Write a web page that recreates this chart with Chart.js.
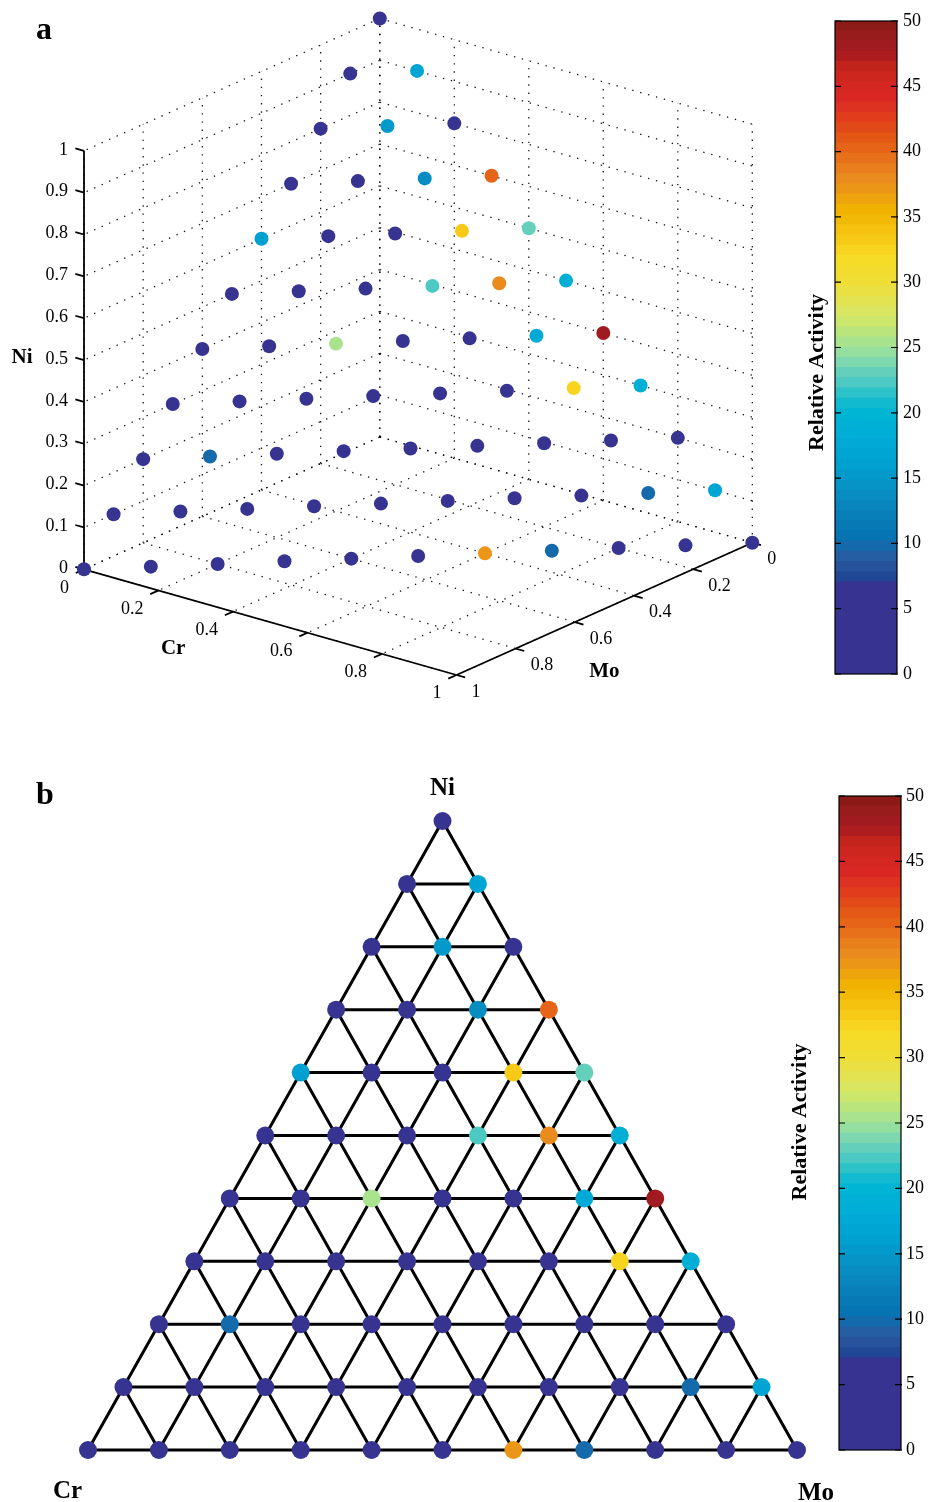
<!DOCTYPE html>
<html>
<head>
<meta charset="utf-8">
<script src="https://cdn.jsdelivr.net/npm/chart.js@4.4.1/dist/chart.umd.min.js"></script>
<style>
html,body{margin:0;padding:0;background:#fff;}
body{width:928px;height:1502px;position:relative;overflow:hidden;}
canvas{position:absolute;}
</style>
</head>
<body>
<canvas id="c3d" style="left:0;top:0;width:800px;height:720px" width="800" height="720"></canvas>
<canvas id="cbA" style="left:780px;top:0;width:148px;height:700px" width="148" height="700"></canvas>
<canvas id="tern" style="left:0;top:760px;width:928px;height:742px" width="928" height="742"></canvas>
<canvas id="cbB" style="left:780px;top:760px;width:148px;height:742px" width="148" height="742"></canvas>
<script>
// ---------------- DATA ----------------
// composition grid fractions (Ni rows, Cr steps)
const compositionSteps = [0, 0.1, 0.2, 0.3, 0.4, 0.5, 0.6, 0.7, 0.8, 0.9, 1];
// relative activity per Ni row, ordered by increasing Cr (Cr = 0, 0.1, ...), Mo = 1 - Ni - Cr
const actNi00 = [3, 3, 3, 3, 3, 3, 37, 10, 3, 3, 3];
const actNi01 = [3, 3, 3, 3, 3, 3, 3, 3, 9.5, 17];
const actNi02 = [3, 9.5, 3, 3, 3, 3, 3, 3, 3];
const actNi03 = [3, 3, 3, 3, 3, 3, 32.5, 18.5];
const actNi04 = [3, 3, 25, 3, 3, 17.5, 48];
const actNi05 = [3, 3, 3, 22.5, 38, 18];
const actNi06 = [16, 3, 3, 33, 22.7];
const actNi07 = [3, 3, 13.5, 40.5];
const actNi08 = [3, 15, 3];
const actNi09 = [3, 17];
const actNi10 = [3];
const activityRows = [actNi00, actNi01, actNi02, actNi03, actNi04, actNi05, actNi06, actNi07, actNi08, actNi09, actNi10];

// tick labels
const niTickValues = [0, 0.1, 0.2, 0.3, 0.4, 0.5, 0.6, 0.7, 0.8, 0.9, 1];
const niTickLabels = ['0', '0.1', '0.2', '0.3', '0.4', '0.5', '0.6', '0.7', '0.8', '0.9', '1'];
const crTickValues = [0, 0.2, 0.4, 0.6, 0.8, 1];
const crTickLabels = ['0', '0.2', '0.4', '0.6', '0.8', '1'];
const moTickValues = [0, 0.2, 0.4, 0.6, 0.8, 1];
const moTickLabels = ['0', '0.2', '0.4', '0.6', '0.8', '1'];
const colorbarMin = 0, colorbarMax = 50, colorbarStep = 5, colorbarLevels = 64;

// ---------------- COLORMAP (style) ----------------
const cmapStops = [0, 7.0, 7.1, 8.6, 9.4, 10.2, 12, 14, 16, 18, 20, 21, 22, 23, 24, 25, 26, 27, 28, 29, 30, 32, 33, 34.5, 35.5, 37, 38, 39.5, 41, 42.5, 44, 45.5, 46.5, 47.5, 49, 50];
const cmapColors = [
  [54,52,144],[54,52,144],[30,68,146],[42,88,160],[32,100,166],[5,114,176],[8,126,184],[8,144,196],
  [0,160,208],[0,172,215],[0,181,212],[24,188,204],[68,198,196],[98,208,188],[130,218,172],[160,226,150],
  [182,229,128],[206,231,108],[222,229,90],[232,225,72],[240,222,54],[247,218,36],[247,204,24],[243,188,10],
  [240,178,0],[236,152,22],[234,138,30],[230,112,26],[228,88,22],[225,62,28],[218,40,36],[208,38,32],
  [194,36,28],[166,26,32],[150,28,28],[134,26,22]
];
function cmap(v) {
  if (v <= cmapStops[0]) return cmapColors[0];
  for (let i = 1; i < cmapStops.length; i++) {
    if (v <= cmapStops[i]) {
      const t = (v - cmapStops[i-1]) / (cmapStops[i] - cmapStops[i-1]);
      const a = cmapColors[i-1], b = cmapColors[i];
      return [0,1,2].map(k => Math.round(a[k] + (b[k]-a[k]) * t));
    }
  }
  return cmapColors[cmapColors.length-1];
}
const bandColors = [];
for (let i = 0; i < colorbarLevels; i++) {
  const c = cmap((i + 0.5) * (colorbarMax - colorbarMin) / colorbarLevels + colorbarMin);
  bandColors.push('rgb(' + c.join(',') + ')');
}
function colorFor(v) {
  const idx = Math.min(colorbarLevels - 1, Math.max(0, Math.floor((v - colorbarMin) / (colorbarMax - colorbarMin) * colorbarLevels)));
  return bandColors[idx];
}

// ---------------- POINTS ----------------
const points = [];
activityRows.forEach((row, r) => {
  const ni = compositionSteps[r];
  row.forEach((v, k) => {
    const cr = compositionSteps[k];
    const mo = Math.round((1 - ni - cr) * 10) / 10;
    points.push({ ni, cr, mo, v });
  });
});

Chart.defaults.font.family = '"Liberation Serif", "Times New Roman", serif';

// ---------------- PANEL A : 3D view ----------------
const view = { origin: [379.8, 437], cr: [372.5, 105.7], mo: [-295.8, 132.3], ni: [0, -418.5] };
function proj(cr, mo, ni) {
  return {
    x: view.origin[0] + cr * view.cr[0] + mo * view.mo[0] + ni * view.ni[0],
    y: view.origin[1] + cr * view.cr[1] + mo * view.mo[1] + ni * view.ni[1]
  };
}
function unit(v) { const l = Math.hypot(v[0], v[1]); return [v[0]/l, v[1]/l]; }
const uCr = unit(view.cr), uMo = unit(view.mo);
const tickLen = 9;

const datasetsA = [];
datasetsA.push({
  data: points.map(p => proj(p.cr, p.mo, p.ni)),
  pointBackgroundColor: points.map(p => colorFor(p.v)),
  pointBorderWidth: 0, pointRadius: 7, pointHoverRadius: 7, showLine: false, order: 0, clip: false
});
function seg(a, b, style, order) {
  datasetsA.push(Object.assign({ data: [a, b], showLine: true, pointRadius: 0, fill: false, tension: 0, order, clip: false }, style));
}
const dotted = { borderColor: 'rgba(0,0,0,0.9)', borderWidth: 1.3, borderDash: [1.4, 6.8], borderCapStyle: 'butt' };
const solid = { borderColor: '#000', borderWidth: 1.8, borderCapStyle: 'butt' };
// floor grid
crTickValues.forEach(c => seg(proj(c, 0, 0), proj(c, 1, 0), dotted, 2));
moTickValues.forEach(m => seg(proj(0, m, 0), proj(1, m, 0), dotted, 2));
// back-left wall (Cr = 0)
moTickValues.forEach(m => seg(proj(0, m, 0), proj(0, m, 1), dotted, 2));
niTickValues.forEach(n => seg(proj(0, 0, n), proj(0, 1, n), dotted, 2));
// back-right wall (Mo = 0)
crTickValues.forEach(c => seg(proj(c, 0, 0), proj(c, 0, 1), dotted, 2));
niTickValues.forEach(n => seg(proj(0, 0, n), proj(1, 0, n), dotted, 2));
// axes
seg(proj(0, 1, 0), proj(0, 1, 1), solid, 1);
seg(proj(0, 1, 0), proj(1, 1, 0), solid, 1);
seg(proj(1, 0, 0), proj(1, 1, 0), solid, 1);
// ticks
niTickValues.forEach(n => { const p = proj(0, 1, n); seg(p, { x: p.x - tickLen * uCr[0], y: p.y - tickLen * uCr[1] }, solid, 1); });
crTickValues.forEach(c => { const p = proj(c, 1, 0); seg(p, { x: p.x + tickLen * uMo[0], y: p.y + tickLen * uMo[1] }, solid, 1); });
moTickValues.forEach(m => { const p = proj(1, m, 0); seg(p, { x: p.x + tickLen * uCr[0], y: p.y + tickLen * uCr[1] }, solid, 1); });

const text3d = {
  id: 'text3d',
  afterDatasetsDraw(chart) {
    const ctx = chart.ctx, sx = chart.scales.x, sy = chart.scales.y;
    const px = p => ({ x: sx.getPixelForValue(p.x), y: sy.getPixelForValue(p.y) });
    ctx.save();
    ctx.fillStyle = '#000';
    ctx.font = '18px "Liberation Serif"';
    ctx.textBaseline = 'middle';
    ctx.textAlign = 'right';
    niTickValues.forEach((n, i) => { const p = px(proj(0, 1, n)); ctx.fillText(niTickLabels[i], p.x - 16, p.y - 1); });
    crTickValues.forEach((c, i) => { const p = px(proj(c, 1, 0)); ctx.fillText(crTickLabels[i], p.x - 15, p.y + 18.5); });
    ctx.textAlign = 'left';
    moTickValues.forEach((m, i) => { const p = px(proj(1, m, 0)); ctx.fillText(moTickLabels[i], p.x + 15, p.y + 17); });
    ctx.textBaseline = 'alphabetic';
    ctx.font = 'bold 21px "Liberation Serif"';
    const niMid = px(proj(0, 1, 0.5));
    ctx.fillText('Ni', niMid.x - 72.5, niMid.y + 3);
    const crRef = px(proj(0.25, 1, 0));
    ctx.textAlign = 'center';
    ctx.fillText('Cr', crRef.x - 4, crRef.y + 58);
    const moMid = px(proj(1, 0.5, 0));
    ctx.fillText('Mo', moMid.x, moMid.y + 68);
    ctx.textAlign = 'left';
    ctx.font = 'bold 32px "Liberation Serif"';
    ctx.fillText('a', 36, 38.5);
    ctx.restore();
  }
};

new Chart(document.getElementById('c3d'), {
  type: 'scatter',
  data: { datasets: datasetsA },
  options: {
    responsive: false, animation: false, events: [], devicePixelRatio: 1,
    layout: { padding: 0, autoPadding: false },
    plugins: { legend: { display: false }, tooltip: { enabled: false } },
    scales: {
      x: { type: 'linear', min: 0, max: 800, display: false },
      y: { type: 'linear', min: 0, max: 720, reverse: true, display: false }
    }
  },
  plugins: [text3d]
});

// ---------------- PANEL B : ternary ----------------
function ternXY(cr, ni) { return { x: cr + ni / 2, y: ni }; }
const datasetsB = [];
datasetsB.push({
  data: points.map(p => ternXY(p.cr, p.ni)),
  pointBackgroundColor: points.map(p => colorFor(p.v)),
  pointBorderWidth: 0, pointRadius: 9, pointHoverRadius: 9, showLine: false, order: 0, clip: false
});
const ternLine = { borderColor: '#000', borderWidth: 3, borderCapStyle: 'round' };
function tseg(a, b) {
  datasetsB.push(Object.assign({ data: [a, b], showLine: true, pointRadius: 0, fill: false, tension: 0, order: 1, clip: false }, ternLine));
}
compositionSteps.slice(0, -1).forEach(f => {
  tseg(ternXY(0, f), ternXY(1 - f, f));          // constant Ni rows
  tseg(ternXY(f, 0), ternXY(f, 1 - f));          // constant Cr lines
  tseg(ternXY(1 - f, 0), ternXY(0, 1 - f));      // constant Mo lines
});

const ternText = {
  id: 'ternText',
  afterDatasetsDraw(chart) {
    const ctx = chart.ctx, sx = chart.scales.x, sy = chart.scales.y;
    const px = p => ({ x: sx.getPixelForValue(p.x), y: sy.getPixelForValue(p.y) });
    const top = px(ternXY(0, 1)), left = px(ternXY(0, 0)), right = px(ternXY(1, 0));
    ctx.save();
    ctx.fillStyle = '#000';
    ctx.font = 'bold 25px "Liberation Serif"';
    ctx.textBaseline = 'alphabetic';
    ctx.textAlign = 'center';
    ctx.fillText('Ni', top.x, top.y - 26);
    ctx.textAlign = 'left';
    ctx.fillText('Cr', left.x - 35, left.y + 48);
    ctx.fillText('Mo', right.x + 1, right.y + 50);
    ctx.font = 'bold 32px "Liberation Serif"';
    ctx.fillText('b', 36, 43.5);
    ctx.restore();
  }
};

new Chart(document.getElementById('tern'), {
  type: 'scatter',
  data: { datasets: datasetsB },
  options: {
    responsive: false, animation: false, events: [], devicePixelRatio: 1,
    layout: { padding: { left: 88, right: 131, top: 61, bottom: 52 }, autoPadding: false },
    plugins: { legend: { display: false }, tooltip: { enabled: false } },
    scales: {
      x: { type: 'linear', min: 0, max: 1, display: false },
      y: { type: 'linear', min: 0, max: 1, display: false }
    }
  },
  plugins: [ternText]
});

// ---------------- COLORBARS ----------------
const cbFrame = {
  id: 'cbFrame',
  afterDraw(chart, args, opts) {
    const { ctx, chartArea: a } = chart;
    const y = chart.scales.y;
    ctx.save();
    ctx.strokeStyle = '#000';
    ctx.lineWidth = 1.2;
    y.ticks.forEach(t => {
      const py = y.getPixelForValue(t.value);
      ctx.beginPath();
      ctx.moveTo(a.left, py); ctx.lineTo(a.left + 6, py);
      ctx.moveTo(a.right - 6, py); ctx.lineTo(a.right + 1, py);
      ctx.stroke();
    });
    ctx.strokeRect(a.left, a.top, a.right - a.left, a.bottom - a.top);
    ctx.translate(opts.titleX, opts.titleY);
    ctx.rotate(-Math.PI / 2);
    ctx.fillStyle = '#000';
    ctx.font = 'bold 22px "Liberation Serif"';
    ctx.textAlign = 'center';
    ctx.textBaseline = 'alphabetic';
    ctx.fillText('Relative Activity', 0, 0);
    ctx.restore();
  }
};
function makeColorbar(id, pad, axisWidth, tickPad, titleX, titleY) {
  const datasets = bandColors.map(c => ({
    data: [(colorbarMax - colorbarMin) / colorbarLevels], backgroundColor: c,
    borderWidth: 0, barPercentage: 1, categoryPercentage: 1, inflateAmount: 0.8
  }));
  new Chart(document.getElementById(id), {
    type: 'bar',
    data: { labels: [''], datasets },
    options: {
      responsive: false, animation: false, events: [], devicePixelRatio: 1,
      layout: { padding: pad },
      plugins: { legend: { display: false }, tooltip: { enabled: false }, cbFrame: { titleX, titleY } },
      scales: {
        x: { display: false, stacked: true },
        y: {
          stacked: true, position: 'right', min: colorbarMin, max: colorbarMax,
          ticks: { stepSize: colorbarStep, color: '#000', font: { size: 18 }, padding: tickPad },
          grid: { display: false, drawTicks: false }, border: { display: false },
          afterFit(s) { s.width = axisWidth; }
        }
      }
    },
    plugins: [cbFrame]
  });
}
makeColorbar('cbA', { left: 55, right: 0, top: 21, bottom: 26 }, 31, 6, 42.5, 372.5);
makeColorbar('cbB', { left: 59, right: 0, top: 36, bottom: 52 }, 27, 5, 26, 362);
</script>
</body>
</html>
